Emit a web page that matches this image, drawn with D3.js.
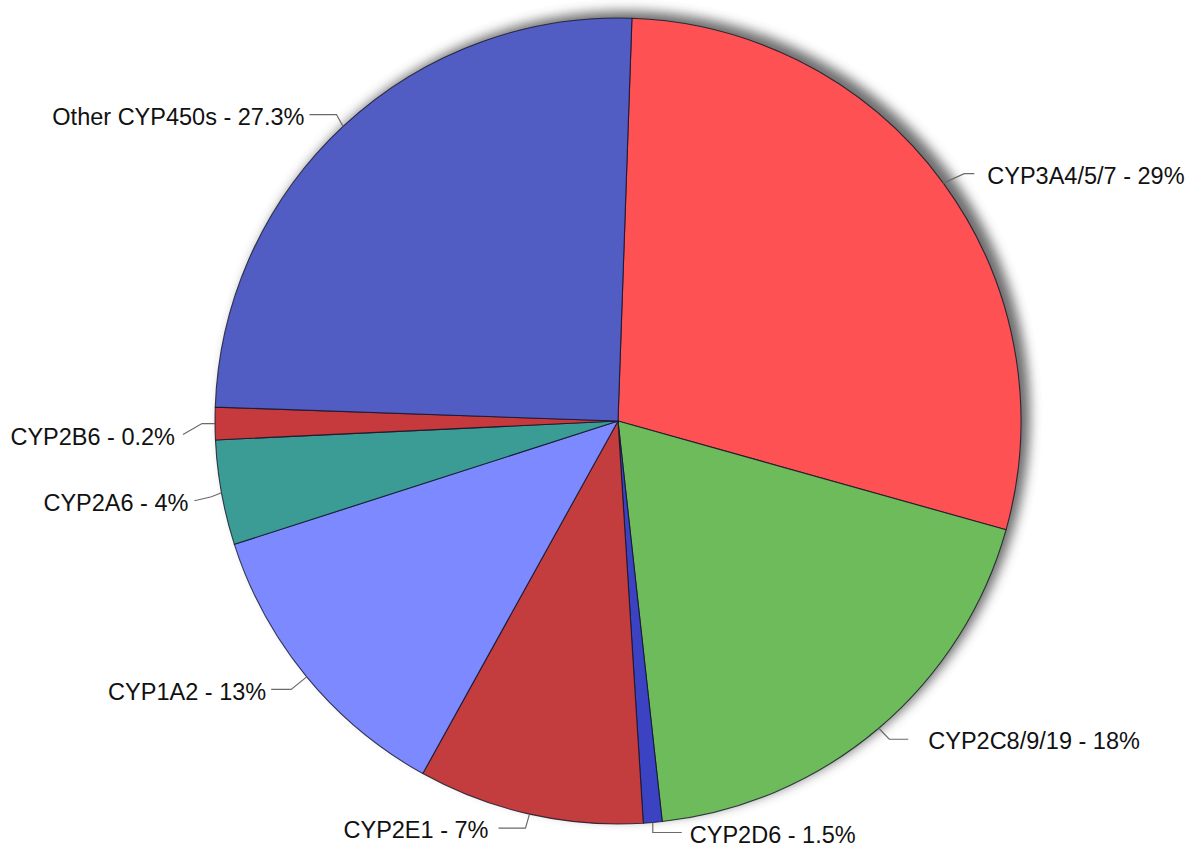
<!DOCTYPE html>
<html>
<head>
<meta charset="utf-8">
<script src="https://cdn.jsdelivr.net/npm/d3@7"></script>
<style>
  html, body { margin: 0; padding: 0; background: #ffffff; }
  svg { display: block; }
  text { font-family: "Liberation Sans", Arial, sans-serif; }
</style>
</head>
<body>
<svg id="chart" width="1196" height="847"></svg>
<script>
// ---- data ----
const categories = ["CYP3A4/5/7", "CYP2C8/9/19", "CYP2D6", "CYP2E1", "CYP1A2", "CYP2A6", "CYP2B6", "Other CYP450s"];
const labelPercents = ["29%", "18%", "1.5%", "7%", "13%", "4%", "0.2%", "27.3%"];
// slice sizes as drawn in the picture (percent of the circle)
const sliceShares = [28.8, 18.9, 0.75, 9.05, 12.0, 4.2, 1.3, 25.0];
const sliceColors = ["#FE5154", "#6DBB5B", "#3C43C2", "#C33C3E", "#7D89FE", "#3A9C94", "#C63A3E", "#525DC4"];

// ---- layout ----
const W = 1196, H = 847;
const cx = 618, cy = 421, R = 403;
const startOffset = 1.98 * Math.PI / 180;
// leader layout: elbow offset and end offset relative to the edge point, text side
const leaderLayout = [
  { ex: 21, ey: -9.5, lx: 31, ly: -9.5, side: 1, gap: 13 },
  { ex: 10.5, ey: 11, lx: 29.5, ly: 11, side: 1, gap: 20 },
  { ex: 0, ey: 10, lx: 29, ly: 10, side: 1, gap: 8 },
  { ex: -4, ey: 14, lx: -31, ly: 14, side: -1, gap: 10 },
  { ex: -15.5, ey: 12.5, lx: -35.5, ly: 12.5, side: -1, gap: 5 },
  { ex: -10, ey: 4, lx: -27, ly: 8, side: -1, gap: 6 },
  { ex: -13, ey: 0, lx: -32, ly: 11, side: -1, gap: 8 },
  { ex: -6.6, ey: -11.8, lx: -33.6, ly: -11.8, side: -1, gap: 5 }
];

const data = categories.map((c, i) => ({ name: c, pct: labelPercents[i], value: sliceShares[i], color: sliceColors[i], i }));

const svg = d3.select("#chart");
const defs = svg.append("defs");
const f = defs.append("filter").attr("id", "shadow").attr("x", "-20%").attr("y", "-20%").attr("width", "140%").attr("height", "140%");
f.append("feGaussianBlur").attr("stdDeviation", 6);

const g = svg.append("g").attr("transform", `translate(${cx},${cy})`);

// shadow
g.append("circle")
  .attr("cx", 8).attr("cy", -6).attr("r", R + 1)
  .attr("fill", "#4a4a4a").attr("opacity", 0.8)
  .attr("filter", "url(#shadow)");

const pie = d3.pie().sort(null).value(d => d.value)
  .startAngle(startOffset).endAngle(startOffset + 2 * Math.PI);
const arcs = pie(data);
const arc = d3.arc().innerRadius(0).outerRadius(R);

g.selectAll("path.slice").data(arcs).join("path")
  .attr("class", "slice")
  .attr("d", arc)
  .attr("fill", d => d.data.color)
  .attr("stroke", "rgba(20,20,40,0.8)")
  .attr("stroke-width", 1.1)
  .attr("stroke-linejoin", "round");

// labels + leaders
const lab = svg.append("g");
arcs.forEach((a, k) => {
  const mid = (a.startAngle + a.endAngle) / 2;
  const px = cx + R * Math.sin(mid), py = cy - R * Math.cos(mid);
  const L = leaderLayout[k];
  const ex = px + L.ex, ey = py + L.ey, lx = px + L.lx, ly = py + L.ly;
  lab.append("path")
    .attr("d", d3.line()([[px, py], [ex, ey], [lx, ly]]))
    .attr("fill", "none").attr("stroke", "#6a6a6a").attr("stroke-width", 1.2);
  lab.append("text")
    .attr("x", lx + L.side * L.gap)
    .attr("y", ly + 2)
    .attr("dy", "0.35em")
    .attr("text-anchor", L.side > 0 ? "start" : "end")
    .attr("font-size", 23.5)
    .attr("fill", "#111")
    .text(`${a.data.name} - ${a.data.pct}`);
});
</script>
</body>
</html>
